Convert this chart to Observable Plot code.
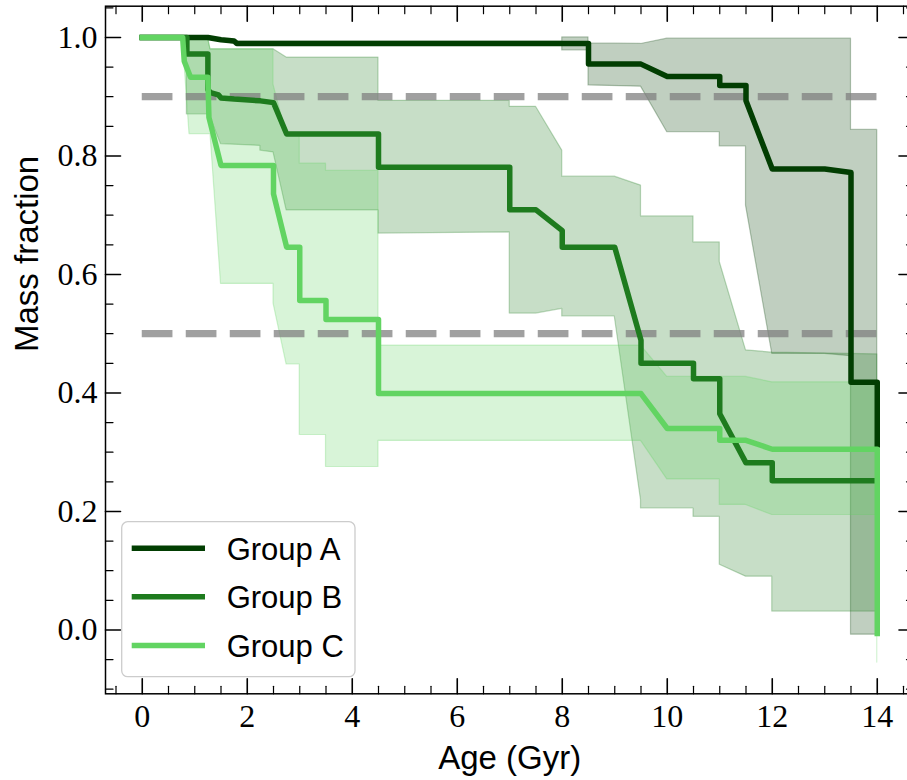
<!DOCTYPE html>
<html><head><meta charset="utf-8">
<script src="https://cdn.jsdelivr.net/npm/d3@7"></script>
<script src="https://cdn.jsdelivr.net/npm/@observablehq/plot@0.6"></script>
<style>
html,body{margin:0;padding:0;overflow:hidden;background:#fff;width:907px;height:780px;}
#wrap{position:relative;width:907px;height:780px;overflow:hidden;}
#wrap svg{max-width:none !important;}
#legend{position:absolute;left:0;top:0;pointer-events:none;}
</style></head><body><div id="wrap"></div>
<script>
// ---------- data ----------
const groups = ["Group A", "Group B", "Group C"];
const colors = ["#023e02", "#1e7b1e", "#62d462"];

const ageA  = [0, 1.25, 1.5, 1.75, 1.8, 8.5, 8.5, 9.5, 10, 11, 11, 11.5, 11.5, 12, 13, 13.5, 13.5, 14, 14];
const fracA = [1.0, 1.0, 0.996, 0.994, 0.99, 0.99, 0.955, 0.955, 0.934, 0.934, 0.919, 0.919, 0.893, 0.778, 0.778, 0.772, 0.418, 0.418, 0.312];

const ageB  = [0, 0.85, 0.85, 1.25, 1.25, 1.3, 1.45, 1.5, 1.75, 2.25, 2.5, 2.75, 4.5, 4.5, 7, 7, 7.5, 8, 8, 9, 9.5, 9.5, 10.5, 10.5, 11, 11, 11.5, 12, 12, 14];
const fracB = [1.0, 1.0, 0.972, 0.972, 0.912, 0.907, 0.903, 0.898, 0.896, 0.893, 0.89, 0.837, 0.837, 0.781, 0.781, 0.709, 0.709, 0.674, 0.646, 0.646, 0.489, 0.45, 0.45, 0.424, 0.424, 0.365, 0.282, 0.282, 0.252, 0.252];

const ageC  = [0, 0.77, 0.8, 0.92, 1.25, 1.27, 1.5, 2.5, 2.5, 2.75, 3, 3, 3.5, 3.5, 4.5, 4.5, 9.5, 10, 11, 11, 11.5, 12, 14, 14];
const fracC = [1.0, 1.0, 0.96, 0.933, 0.933, 0.865, 0.784, 0.784, 0.736, 0.646, 0.646, 0.556, 0.556, 0.524, 0.524, 0.399, 0.399, 0.34, 0.34, 0.32, 0.32, 0.305, 0.305, -0.006];

const bandAgeA = [0, 1.25, 1.8, 8, 8, 8.5, 8.5, 9.5, 10, 11, 11, 11.5, 11.5, 12, 13, 13.5, 13.5, 14];
const bandLoA  = [1.0, 1.0, 0.988, 0.988, 0.978, 0.978, 0.919, 0.917, 0.84, 0.84, 0.816, 0.816, 0.716, 0.466, 0.466, 0.462, -0.008, -0.008];
const bandHiA  = [1.0, 1.0, 0.993, 0.993, 1.0, 1.0, 0.99, 0.989, 0.998, 0.998, 0.998, 0.998, 0.998, 0.998, 0.998, 0.998, 0.844, 0.844];

const bandAgeB = [0.85, 0.85, 1.25, 1.3, 1.5, 2.25, 2.25, 2.5, 2.75, 4.5, 4.5, 7, 7, 7.5, 8, 8, 9, 9.5, 9.5, 10.5, 10.5, 11, 11, 11.5, 12, 12, 14];
const bandLoB  = [1.0, 0.87, 0.87, 0.865, 0.82, 0.817, 0.809, 0.806, 0.708, 0.708, 0.669, 0.671, 0.534, 0.534, 0.542, 0.529, 0.529, 0.219, 0.205, 0.205, 0.191, 0.191, 0.110, 0.090, 0.090, 0.031, 0.031];
const bandHiB  = [1.0, 1.0, 1.0, 0.98, 0.98, 0.98, 0.98, 0.98, 0.966, 0.966, 0.893, 0.893, 0.883, 0.883, 0.809, 0.765, 0.765, 0.75, 0.698, 0.698, 0.654, 0.654, 0.621, 0.472, 0.468, 0.468, 0.465];

const bandAgeC = [0.77, 0.9, 1.25, 1.3, 1.5, 2.5, 2.5, 2.75, 3, 3, 3.5, 3.5, 4.5, 4.5, 9.5, 10, 11, 11, 11.5, 12, 14, 14];
const bandLoC  = [1.0, 0.837, 0.837, 0.837, 0.584, 0.584, 0.551, 0.448, 0.448, 0.329, 0.329, 0.275, 0.275, 0.319, 0.319, 0.254, 0.254, 0.211, 0.211, 0.194, 0.194, -0.055];
const bandHiC  = [1.0, 1.0, 1.0, 0.98, 0.98, 0.98, 0.92, 0.835, 0.835, 0.787, 0.787, 0.775, 0.775, 0.48, 0.48, 0.427, 0.427, 0.427, 0.427, 0.418, 0.418, -0.055];

const thresholds = [0.9, 0.5];
const xMajor = [0, 2, 4, 6, 8, 10, 12, 14];
const yMajor = [0, 0.2, 0.4, 0.6, 0.8, 1.0];
const xMinor = d3.range(-1, 30).map(i => i / 2).filter(v => v % 2 !== 0);
const yMinor = d3.range(-2, 22).map(i => +(i * 0.05).toFixed(2)).filter(v => Math.round(v * 100) % 20 !== 0);

// ---------- build tables ----------
const lineData = [[ageA, fracA], [ageB, fracB], [ageC, fracC]].map(([a, f], g) =>
  a.map((x, i) => ({x, y: f[i], g})));
const bandData = [[bandAgeA, bandLoA, bandHiA], [bandAgeB, bandLoB, bandHiB], [bandAgeC, bandLoC, bandHiC]].map(([a, lo, hi], g) =>
  a.map((x, i) => ({x, lo: lo[i], hi: hi[i], g})));

const tickShape = {draw(ctx, l) { ctx.moveTo(0, 0); ctx.lineTo(0, -l); }};
function tickMarks(values, channel, anchor, rotate, length, sw) {
  return Plot.vector(values, {[channel]: d => d, frameAnchor: anchor, rotate, length, anchor: "start",
    shape: tickShape, stroke: "black", strokeWidth: sw});
}

const W = 920, H = 780;
const marks = [];
bandData.forEach((d, g) => {
  marks.push(Plot.area(d, {x1: "x", y1: "lo", y2: "hi", fill: colors[g], fillOpacity: 0.25,
    stroke: colors[g], strokeOpacity: 0.28, strokeWidth: 1.2}));
});
marks.push(Plot.ruleY(thresholds, {x1: 0, x2: 14, stroke: "#808080", strokeOpacity: 0.75,
  strokeWidth: 7.3, strokeDasharray: "30.7,13.3"}));
lineData.forEach((d, g) => {
  marks.push(Plot.line(d, {x: "x", y: "y", stroke: colors[g], strokeWidth: 5.5,
    strokeLinejoin: "round", strokeLinecap: "square"}));
});
marks.push(
  Plot.frame({stroke: "black", strokeWidth: 1.5}),
  tickMarks(xMajor, "x", "bottom", 0, 15, 1.6),
  tickMarks(xMinor, "x", "bottom", 0, 7.5, 1.2),
  tickMarks(xMajor, "x", "top", 180, 15, 1.6),
  tickMarks(xMinor, "x", "top", 180, 7.5, 1.2),
  tickMarks(yMajor, "y", "left", 90, 15, 1.6),
  tickMarks(yMinor, "y", "left", 90, 7.5, 1.2),
  tickMarks(yMajor, "y", "right", -90, 15, 1.6),
  tickMarks(yMinor, "y", "right", -90, 7.5, 1.2),
  Plot.axisX({ticks: xMajor, tickSize: 0, tickPadding: 10, tickFormat: d => String(d),
    fontSize: 32, fontFamily: "Liberation Serif", label: null}),
  Plot.axisY({ticks: yMajor, tickSize: 0, tickPadding: 8, tickFormat: d3.format(".1f"),
    fontSize: 32, fontFamily: "Liberation Serif", label: null}),
  Plot.text(["Age (Gyr)"], {frameAnchor: "bottom", dy: 75, text: d => d, fontSize: 33,
    fontFamily: "Liberation Sans", fill: "black"}),
  Plot.text(["Mass fraction"], {frameAnchor: "left", rotate: -90, dx: -78, dy: 2, text: d => d,
    fontSize: 33, fontFamily: "Liberation Sans", fill: "black"})
);

const chart = Plot.plot({
  width: W, height: H,
  marginLeft: 105, marginRight: 6.5, marginTop: 5.7, marginBottom: 86.7,
  x: {domain: [-0.7, 14.7]},
  y: {domain: [-0.10775, 1.05275]},
  style: {maxWidth: "none", background: "white", color: "black", overflow: "visible"},
  marks
});
const wrap = document.getElementById("wrap");
wrap.appendChild(chart);

// ---------- legend (overlay inside plot area) ----------
const leg = d3.select(wrap).append("svg").attr("id", "legend").attr("width", 907).attr("height", 780);
leg.append("rect").attr("x", 121.7).attr("y", 521.7).attr("width", 233.3).attr("height", 155)
  .attr("rx", 6).attr("fill", "white").attr("fill-opacity", 0.8)
  .attr("stroke", "#cccccc").attr("stroke-width", 1.3);
const rowY = [548.3, 596.7, 645.4];
groups.forEach((name, i) => {
  leg.append("line").attr("x1", 131.7).attr("x2", 205).attr("y1", rowY[i]).attr("y2", rowY[i])
    .attr("stroke", colors[i]).attr("stroke-width", 5.5);
  leg.append("text").attr("x", 226.7).attr("y", rowY[i] + 11.7).text(name)
    .attr("font-family", "Liberation Sans").attr("font-size", 31).attr("fill", "black");
});
</script></body></html>
